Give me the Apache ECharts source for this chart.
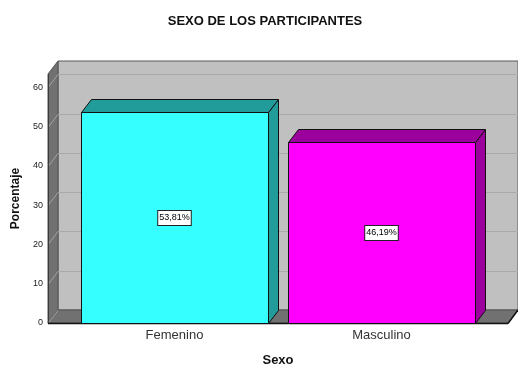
<!DOCTYPE html>
<html>
<head>
<meta charset="utf-8">
<script src="https://cdn.jsdelivr.net/npm/echarts@6/dist/echarts.min.js"></script>
<style>
  html, body { margin: 0; padding: 0; background: #fff; }
  #chart { width: 518px; height: 366px; }
</style>
</head>
<body>
<div id="chart"></div>
<script>
// Categories and percentages of participants by sex
const categories = ['Femenino', 'Masculino'];
const percentages = [53.81, 46.19];
const yTicks = [0, 10, 20, 30, 40, 50, 60];
const yMax = 63.4;

// Face colours for each bar: [front, top/side]
const barColors = [
  ['#36ffff', '#229c9a'],
  ['#ff00ff', '#9c009c']
];

// Depth of the 3D extrusion in pixels
const DX = 10, DY = -13;
// Extra room on each side of the category bands, in pixels
const SIDE_PAD = 23;

const FONT = 'Arial, "Liberation Sans", sans-serif';

function fmt(v) {
  return v.toFixed(2).replace('.', ',') + '%';
}

function renderFrame(params, api) {
  const cs = params.coordSys;
  const L = cs.x - SIDE_PAD;
  const R = cs.x + cs.width + SIDE_PAD;
  const y0 = api.coord([0, 0])[1];
  const yTop = cs.y;
  const children = [];
  // back wall
  children.push({
    type: 'rect',
    shape: { x: L + DX, y: yTop + DY, width: R - L, height: y0 - yTop },
    style: { fill: '#c0c0c0', stroke: '#5a5a5a', lineWidth: 1 }
  });
  // left side wall
  children.push({
    type: 'polygon',
    shape: { points: [[L, y0], [L, yTop], [L + DX, yTop + DY], [L + DX, y0 + DY]] },
    style: { fill: '#717171', stroke: '#555', lineWidth: 1 }
  });
  // floor
  children.push({
    type: 'polygon',
    shape: { points: [[L, y0], [R, y0], [R + DX, y0 + DY], [L + DX, y0 + DY]] },
    style: { fill: '#717171', stroke: '#555', lineWidth: 1 }
  });
  // grid lines on the back wall and the side wall
  yTicks.forEach(function (v) {
    const y = Math.round(api.coord([0, v])[1]) + 0.5;
    if (v > 0) {
      children.push({
        type: 'line',
        shape: { x1: L + DX, y1: y + DY, x2: R + DX, y2: y + DY },
        style: { stroke: '#aaaaaa', lineWidth: 1 }
      });
    }
    children.push({
      type: 'line',
      shape: { x1: L, y1: y, x2: L + DX, y2: y + DY },
      style: { stroke: '#a4a4a4', lineWidth: 1 }
    });
  });
  // front edges: value axis and baseline
  children.push({
    type: 'line',
    shape: { x1: L + 0.5, y1: y0, x2: L + 0.5, y2: yTop },
    style: { stroke: '#3a3a3a', lineWidth: 1 }
  });
  children.push({
    type: 'line',
    shape: { x1: L, y1: y0 + 0.5, x2: R, y2: y0 + 0.5 },
    style: { stroke: '#111', lineWidth: 1.5 }
  });
  children.push({
    type: 'line',
    shape: { x1: R, y1: y0 + 0.5, x2: R + DX, y2: y0 + DY },
    style: { stroke: '#111', lineWidth: 1.5 }
  });
  return { type: 'group', children: children };
}

function renderBar(params, api) {
  const idx = api.value(0);
  const val = api.value(1);
  const band = api.size([1, 0])[0];
  const w = band * 0.9;
  const c = api.coord([idx, val]);
  const b = api.coord([idx, 0]);
  const x1 = Math.round(c[0] - w / 2) + 0.5;
  const x2 = Math.round(c[0] + w / 2) + 0.5;
  const yt = Math.round(c[1]) + 0.5;
  const yb = Math.round(b[1]) + 0.5;
  const col = barColors[idx];
  const st = { stroke: '#111', lineWidth: 1 };
  return {
    type: 'group',
    children: [
      {
        type: 'polygon',
        shape: { points: [[x2, yb], [x2, yt], [x2 + DX, yt + DY], [x2 + DX, yb + DY]] },
        style: Object.assign({ fill: col[1] }, st)
      },
      {
        type: 'polygon',
        shape: { points: [[x1, yt], [x2, yt], [x2 + DX, yt + DY], [x1 + DX, yt + DY]] },
        style: Object.assign({ fill: col[1] }, st)
      },
      {
        type: 'rect',
        shape: { x: x1, y: yt, width: x2 - x1, height: yb - yt },
        style: Object.assign({ fill: col[0] }, st)
      },
      {
        type: 'text',
        x: c[0],
        y: (yt + yb) / 2,
        style: {
          text: fmt(val),
          align: 'center',
          verticalAlign: 'middle',
          font: '9px ' + FONT,
          fill: '#000',
          backgroundColor: '#fff',
          borderColor: '#222',
          borderWidth: 1,
          padding: [3, 1, 2, 1]
        }
      }
    ]
  };
}

const chart = echarts.init(document.getElementById('chart'), null, { renderer: 'canvas' });
chart.setOption({
  animation: false,
  backgroundColor: '#fff',
  title: {
    text: 'SEXO DE LOS PARTICIPANTES',
    left: 260,
    top: 10,
    textAlign: 'center',
    textStyle: { fontFamily: FONT, fontSize: 13, fontWeight: 'bold', color: '#111' }
  },
  grid: { left: 71, right: 33, top: 74, bottom: 43, containLabel: false, outerBoundsMode: 'none' },
  xAxis: {
    type: 'category',
    data: categories,
    axisLine: { show: false },
    axisTick: { show: false },
    axisLabel: { margin: 6, fontFamily: FONT, fontSize: 13, color: '#333' },
    name: 'Sexo',
    nameLocation: 'middle',
    nameGap: 31,
    nameTextStyle: { fontFamily: FONT, fontSize: 13, fontWeight: 'bold', color: '#111' }
  },
  yAxis: {
    type: 'value',
    min: 0,
    max: yMax,
    interval: 10,
    offset: SIDE_PAD,
    axisLine: { show: false },
    axisTick: { show: false },
    splitLine: { show: false },
    axisLabel: {
      margin: 5,
      fontFamily: FONT,
      fontSize: 9,
      color: '#222',
      showMaxLabel: false,
      formatter: function (v) { return v % 10 === 0 ? String(v) : ''; }
    },
    name: 'Porcentaje',
    nameLocation: 'middle',
    nameGap: 25,
    nameTextStyle: { fontFamily: FONT, fontSize: 12, fontWeight: 'bold', color: '#111' }
  },
  series: [
    {
      type: 'custom',
      renderItem: renderFrame,
      data: [[0, 0]],
      z: 1,
      silent: true
    },
    {
      type: 'custom',
      renderItem: renderBar,
      data: percentages.map(function (v, i) { return [i, v]; }),
      encode: { x: 0, y: 1 },
      z: 2
    }
  ]
});
</script>
</body>
</html>
